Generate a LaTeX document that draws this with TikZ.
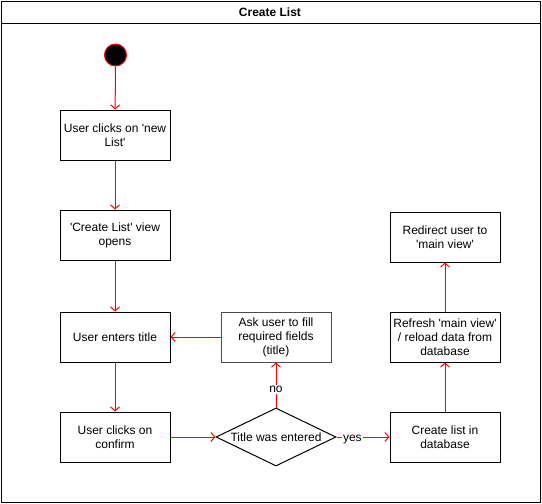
\documentclass[tikz,border=0pt]{standalone}
\usepackage{fontspec}
\setmainfont{Liberation Sans}
\usetikzlibrary{shapes.geometric,arrows.meta}
\newcommand{\q}{\textquotesingle}
\begin{document}
\begin{tikzpicture}[x=1pt,y=-1pt,line width=1pt,
  every node/.style={font=\fontsize{12}{14}\selectfont},
  actbox/.style={draw,rectangle,minimum width=110pt,minimum height=50pt,align=center,inner sep=0pt},
  flow/.style={draw=red,-{Straight Barb[length=4pt,width=9pt]}}]
\useasboundingbox (0,0) rectangle (542,504);
\draw (1,1) rectangle (540,502);
\draw (1,23) -- (540,23);
\node (title) at (270,12) {\bfseries Create List};
\node [circle,draw=red,fill=black,minimum size=22pt,inner sep=0pt] (start) at (115.5,55) {};
\node [actbox] (clicknew) at (115,135) {User clicks on \q new\\List\q};
\node [actbox] (viewopens) at (115,235) {\q Create List\q{} view\\opens};
\node [actbox] (entertitle) at (115,337) {User enters title};
\node [actbox] (confirm) at (115,437) {User clicks on\\confirm};
\node [actbox,draw=black!70] (askfill) at (276,337) {Ask user to fill\\required fields\\(title)};
\node [diamond,draw,inner sep=0pt,minimum width=120pt,minimum height=58pt,aspect=2] (entered) at (276,437) {Title was entered};
\node [actbox] (createdb) at (445,437) {Create list in\\database};
\node [actbox] (refresh) at (445,337) {Refresh \q main view\q\\/ reload data from\\database};
\node [actbox] (redirect) at (445,237) {Redirect user to\\\q main view\q};
\draw [flow] (start) -- (clicknew);
\draw [flow] (clicknew) -- (viewopens);
\draw [flow] (viewopens) -- (entertitle);
\draw [flow] (entertitle) -- (confirm);
\draw [flow] (confirm) -- (entered);
\draw [flow] (entered) -- node [pos=0.3,fill=white,inner sep=1pt,yshift=-3pt] {yes} (createdb);
\draw [flow] (entered) -- node [pos=0.4,fill=white,inner sep=1pt] {no} (askfill);
\draw [flow] (askfill) -- (entertitle);
\draw [flow] (createdb) -- (refresh);
\draw [flow] (refresh) -- (redirect);
\end{tikzpicture}
\end{document}
